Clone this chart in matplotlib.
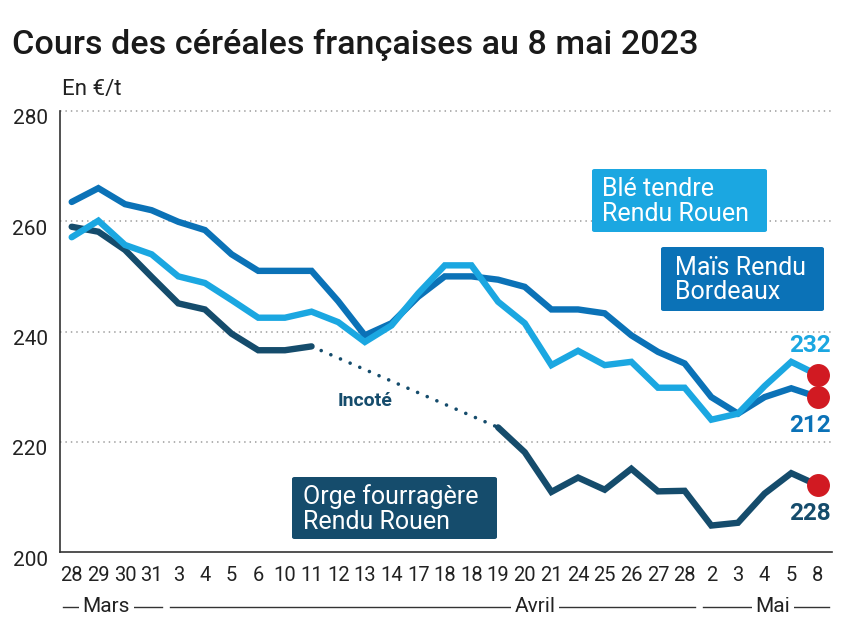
import matplotlib
matplotlib.use("Agg")
import matplotlib.pyplot as plt
from matplotlib.patches import FancyBboxPatch
from matplotlib.transforms import ScaledTranslation
import numpy as np

plt.rcParams['font.family'] = ['Roboto', 'DejaVu Sans']

# ---------------- data ----------------
dates = ['28', '29', '30', '31', '3', '4', '5', '6', '10', '11', '12', '13', '14', '17',
         '18', '18', '19', '20', '21', '24', '25', '26', '27', '28', '2', '3', '4', '5', '8']

ble = [257.1, 260.1, 255.7, 254.0, 250.0, 248.8, 245.7, 242.5, 242.5, 243.6,
       241.7, 238.1, 241.1, 246.9, 252.0, 252.0, 245.4, 241.5, 233.9, 236.5,
       233.9, 234.5, 229.8, 229.8, 224.0, 225.1, 230.1, 234.5, 232.1]

mais = [263.5, 266.0, 263.1, 262.0, 259.9, 258.4, 254.0, 251.0, 251.0, 251.0,
        245.5, 239.3, 241.5, 246.3, 250.0, 250.0, 249.4, 248.1, 244.0, 244.0,
        243.3, 239.3, 236.3, 234.2, 228.1, 225.1, 228.1, 229.7, 228.1]

orge = [259.0, 258.1, 254.8, 249.9, 245.1, 244.0, 239.6, 236.6, 236.6, 237.3,
        None, None, None, None, None, None,
        222.6, 218.1, 210.9, 213.5, 211.3, 215.1, 211.0, 211.1, 204.8, 205.3,
        210.6, 214.3, 212.1]

series_names = ['Blé tendre\nRendu Rouen', 'Maïs Rendu\nBordeaux', 'Orge fourragère\nRendu Rouen']
end_labels = ['232', '212', '228']
months = ['Mars', 'Avril', 'Mai']
month_first = [0, 4, 24]
month_last = [3, 23, 28]
yticks = [200, 220, 240, 260, 280]

# ---------------- style ----------------
W, H = 844, 630
DPI = 100
c_light = '#1ba7e1'
c_mid = '#0b72b7'
c_dark = '#154c6c'
c_red = '#d11a22'

fig = plt.figure(figsize=(W / DPI, H / DPI), dpi=DPI)
fig.patch.set_facecolor('white')

ax_l, ax_r, ax_t, ax_b = 60, 832, 111, 552
ax = fig.add_axes([ax_l / W, 1 - ax_b / H, (ax_r - ax_l) / W, (ax_b - ax_t) / H])
step = 26.65
x0px = 71.7
xlim_lo = -(x0px - ax_l) / step
xlim_hi = xlim_lo + (ax_r - ax_l) / step
ax.set_xlim(xlim_lo, xlim_hi)
ax.set_ylim(200, 280)

x = np.arange(len(dates))

# grid
for yv in yticks[1:]:
    ax.axhline(yv, color='#aaaaaa', lw=1.3, linestyle=(0, (0.8, 2.2)), zorder=1, clip_on=False)

for s in ['top', 'right']:
    ax.spines[s].set_visible(False)
for s in ['left', 'bottom']:
    ax.spines[s].set_color('#333333')
    ax.spines[s].set_linewidth(1.2)

# lines
def to_arr(v):
    return np.array([np.nan if a is None else a for a in v], dtype=float)

ble_a, mais_a, orge_a = to_arr(ble), to_arr(mais), to_arr(orge)
lw = 4.6
ax.plot(x, mais_a, color=c_mid, lw=lw, solid_joinstyle='miter', solid_capstyle='round', zorder=3)
ax.plot(x, ble_a, color=c_light, lw=lw, solid_joinstyle='miter', solid_capstyle='round', zorder=4)
ax.plot(x, orge_a, color=c_dark, lw=lw, solid_joinstyle='miter', solid_capstyle='round', zorder=3)

# dotted gap (Incoté)
valid = ~np.isnan(orge_a)
gap_start = int(np.where(~valid)[0][0] - 1)
gap_end = int(np.where(~valid)[0][-1] + 1)
ax.plot([x[gap_start], x[gap_end]], [orge_a[gap_start], orge_a[gap_end]], color=c_dark,
        lw=2.6, linestyle=(0, (0.01, 2.9)), dash_capstyle='round', zorder=3)
ax.text((x[gap_start] + x[gap_end]) / 2 - 1.5, 227.4, 'Incoté', color=c_dark, fontsize=14,
        fontweight='bold', ha='center', va='center', zorder=5)

# end dots & labels
last = len(dates) - 1
for arr, lab, col, dy in [(ble_a, end_labels[0], c_light, 21.5),
                          (mais_a, end_labels[1], c_mid, -20.5),
                          (orge_a, end_labels[2], c_dark, -20.5)]:
    ax.plot([x[last]], [arr[last]], 'o', color=c_red, ms=15.5, zorder=6, clip_on=False)
    ax.annotate(lab, (x[last], arr[last]), xytext=(9, dy), textcoords='offset points',
                ha='right', va='center', color=col, fontsize=17.5, fontweight='bold', zorder=6)

# ticks
ax.set_yticks(yticks)
ax.set_yticklabels([str(v) for v in yticks], fontsize=15, color='#222222')
ax.tick_params(axis='y', length=0, pad=9)
for lbl in ax.get_yticklabels():
    lbl.set_transform(lbl.get_transform() + ScaledTranslation(0, -6 / DPI, fig.dpi_scale_trans))
ax.set_xticks(x)
ax.set_xticklabels(dates, fontsize=14.5, color='#222222')
ax.tick_params(axis='x', length=0, pad=10)

# month brackets
xt = ax.get_xaxis_transform()
my = -55 / (ax_b - ax_t)
label_pos = [(month_first[0] + month_last[0]) / 2 - 0.2, 17.4, (month_first[2] + month_last[2]) / 2 + 0.3]
for m, a, b, lp in zip(months, month_first, month_last, label_pos):
    ax.plot([a - 0.33, b + 0.4], [my, my], color='#333333', lw=1.0, transform=xt, clip_on=False)
    ax.text(lp, my, m, transform=xt, ha='center', va='center', fontsize=15, color='#222222',
            bbox=dict(facecolor='white', edgecolor='none', pad=2.5), clip_on=False)

# legend boxes (pixel positions)
def box(x1, y1, x2, y2, col, text, tx):
    p = FancyBboxPatch((x1 / W, 1 - y2 / H), (x2 - x1) / W, (y2 - y1) / H,
                       boxstyle='round,pad=0,rounding_size=0.003', transform=fig.transFigure,
                       facecolor=col, edgecolor='none', zorder=10)
    fig.patches.append(p)
    fig.text(tx / W, 1 - ((y1 + y2) / 2 + 1) / H, text, color='white', fontsize=18,
             ha='left', va='center', linespacing=1.02, zorder=11)

box(592, 169, 767, 232, c_light, series_names[0], 602)
box(661, 247, 824, 311, c_mid, series_names[1], 675)
box(292, 477, 497, 539, c_dark, series_names[2], 303)

# title & unit
fig.text(12 / W, 1 - 45 / H, 'Cours des céréales françaises au 8 mai 2023', fontsize=24.6,
         fontweight='medium', color='#1a1a1a', ha='left', va='center')
fig.text(62 / W, 1 - 89 / H, 'En €/t', fontsize=16, color='#222222', ha='left', va='center')

fig.savefig('out.png', dpi=DPI, facecolor='white')
